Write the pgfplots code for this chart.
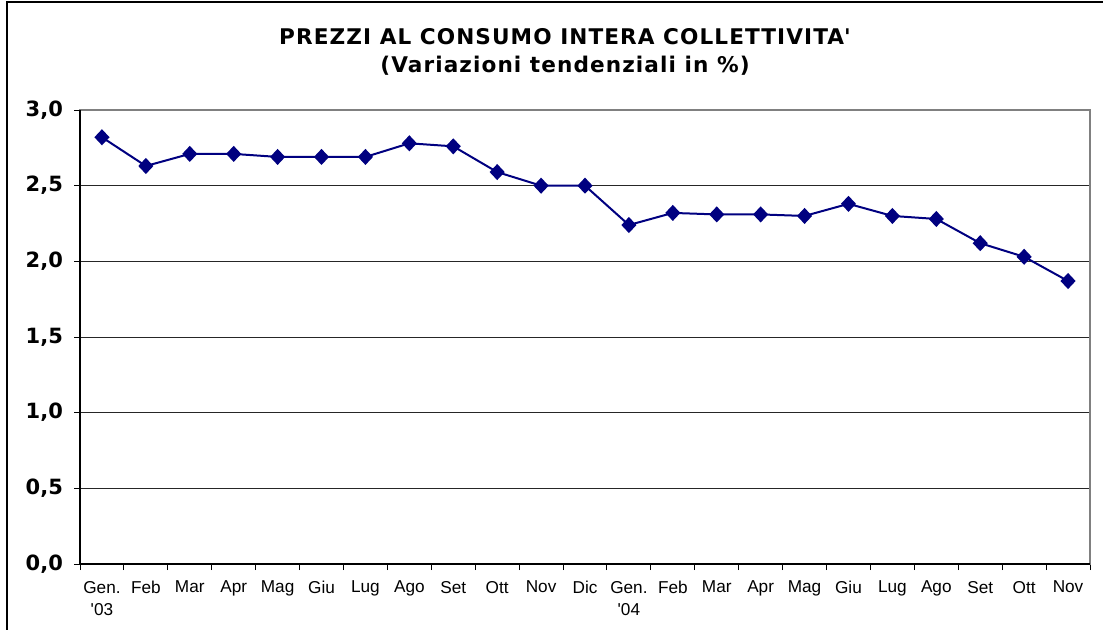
\documentclass[border=0pt]{standalone}
\usepackage{pgfplots}
\pgfplotsset{compat=1.18}
\usepackage{fontspec}
\setmainfont{Liberation Sans}
\newfontfamily\dejavu{DejaVu Sans}
\newfontfamily\titlefont[LetterSpace=5]{DejaVu Sans}
\definecolor{navyline}{RGB}{0,0,128}
\begin{document}
\begin{tikzpicture}
\useasboundingbox (-40pt,-32.5pt) rectangle (511.5pt,282pt);
\clip (-40pt,-32.5pt) rectangle (511.5pt,282pt);
\draw[black, line width=0.75pt] (-36.5pt,-60pt) rectangle (530pt,281pt);
\node[align=center, font=\titlefont\bfseries\fontsize{10.8}{14}\selectfont] at (242.5pt,256pt)
  {PREZZI AL CONSUMO INTERA COLLETTIVITA\textquotesingle\\(Variazioni tendenziali in \%)};
\begin{axis}[
  at={(0,0)}, anchor=south west, scale only axis,
  width=505pt, height=227pt,
  xmin=-0.5, xmax=22.5, ymin=0, ymax=3,
  xtick={0,...,22},
  xticklabels={Gen.\\\textquotesingle 03,Feb,Mar,Apr,Mag,Giu,Lug,Ago,Set,Ott,Nov,Dic,Gen.\\\textquotesingle 04,Feb,Mar,Apr,Mag,Giu,Lug,Ago,Set,Ott,Nov},
  minor xtick={-0.5,0.5,...,22.5},
  ytick={0,0.5,1,1.5,2,2.5,3},
  tick pos=left,
  ymajorgrids,
  major grid style={black!85, line width=0.5pt},
  axis line style={gray, line width=0.75pt},
  tick align=outside,
  major tick length=3pt, minor tick length=3pt,
  every tick/.style={black, line width=0.5pt},
  every major x tick/.append style={draw=none},
  xticklabel style={font=\fontsize{8.6}{11}\selectfont, align=center, anchor=north, yshift=-2pt},
  yticklabel style={font=\dejavu\bfseries\fontsize{10.5}{12}\selectfont, xshift=-2pt,
    /pgf/number format/use comma, /pgf/number format/fixed,
    /pgf/number format/fixed zerofill, /pgf/number format/precision=1,
    /pgf/number format/assume math mode=true},
  clip=false,
]
\addplot[navyline, line width=1pt, mark=diamond*, mark size=3.3pt,
  mark options={xscale=1.25, solid, fill=navyline}] coordinates {
(0,2.82) (1,2.63) (2,2.71) (3,2.71) (4,2.69) (5,2.69) (6,2.69) (7,2.78) (8,2.76)
(9,2.59) (10,2.5) (11,2.5) (12,2.24) (13,2.32) (14,2.31) (15,2.31) (16,2.30)
(17,2.38) (18,2.30) (19,2.28) (20,2.12) (21,2.03) (22,1.87)
};
\draw[black, line width=0.6pt] (axis cs:-0.5,3) -- (axis cs:-0.5,0) -- (axis cs:22.5,0);
\end{axis}
\end{tikzpicture}
\end{document}
